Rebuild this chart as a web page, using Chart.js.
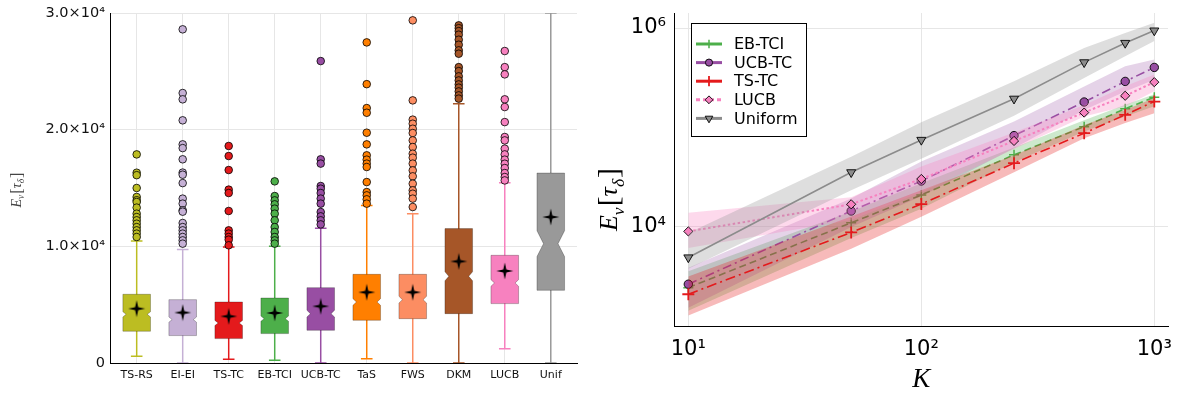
<!DOCTYPE html>
<html>
<head>
<meta charset="utf-8">
<script src="https://cdn.jsdelivr.net/npm/chart.js@4.4.1/dist/chart.umd.min.js"></script>
<style>
  body { margin: 0; background: #fff; }
  #wrap { position: relative; width: 1183px; height: 396px; }
  .pane { position: absolute; top: 0; height: 396px; }
</style>
</head>
<body>
<div id="wrap">
  <div class="pane" style="left:0;width:590px"><canvas id="boxChart" width="590" height="396"></canvas></div>
  <div class="pane" style="left:590px;width:593px"><canvas id="scaleChart" width="593" height="396"></canvas></div>
</div>
<script>
// ---- left panel: stopping time per algorithm ----
const methods = ["TS-RS", "EI-EI", "TS-TC", "EB-TCI", "UCB-TC", "TaS", "FWS", "DKM", "LUCB", "Unif"];
const q1 = [2720, 2350, 2090, 2520, 2800, 3660, 3800, 4230, 5090, 6230];
const medians = [4170, 3720, 3430, 3800, 4230, 5230, 5430, 7430, 6860, 10230];
const q3 = [5890, 5430, 5230, 5570, 6460, 7600, 7600, 11520, 9230, 16280];
const whiskerLow = [575, 0, 320, 230, 0, 370, 0, 0, 1230, 0];
const whiskerHigh = [10450, 9720, 9940, 10000, 11540, 13510, 12800, 22230, 15460, 30000];
const means = [4660, 4320, 4000, 4290, 4860, 6060, 6060, 8710, 7890, 12510];
const notchHalf = [220, 220, 220, 220, 285, 285, 285, 385, 285, 1110];
const outliers = [
  [17880, 16310, 16100, 15000, 14230, 13950, 13800, 13320, 12800, 12510, 12230, 11940, 11650, 11370, 11090, 10800],
  [28600, 23140, 22600, 20800, 18740, 18420, 17460, 16320, 16140, 15420, 14090, 13660, 13090, 12970, 12000, 11650, 11370, 11090, 10800, 10510, 10230],
  [18600, 17740, 16540, 14860, 14570, 13030, 11370, 11090, 10800, 10570, 10090],
  [15570, 14310, 13940, 13600, 13230, 12800, 12230, 11650, 11230, 10800, 10510, 10230],
  [25880, 17460, 17090, 15170, 14940, 14570, 14090, 13660, 12940, 12570, 12230, 11880],
  [27480, 23900, 21850, 21450, 19740, 18740, 17800, 17430, 17090, 16800, 15510, 14650, 14370, 14030, 13660],
  [29370, 22510, 20860, 20510, 20080, 19710, 19080, 18510, 17940, 17600, 17090, 16510, 16000, 15370, 14800, 14510, 14090, 13370],
  [28940, 28700, 28450, 28140, 27710, 27280, 26800, 26510, 25360, 25020, 24570, 24220, 23880, 23600, 23280, 22940, 22660],
  [26740, 25360, 24740, 22600, 21940, 20650, 19370, 19080, 18370, 17880, 17430, 17080, 16710, 16280, 15940, 15650],
  []
];
const boxColors = ["#bcbd22", "#c5b0d5", "#e41a1c", "#4daf4a", "#984ea3", "#ff7f00", "#fc8d62", "#a65628", "#f781bf", "#999999"];

// ---- right panel: scaling with K ----
const K = [10, 50, 100, 250, 500, 750, 1000];
const ebtciMean = [2390, 10800, 20600, 52400, 101000, 153000, 200000];
const ebtciLow = [1400, 7600, 15000, 44000, 90000, 128000, 162000];
const ebtciHigh = [3500, 14000, 27000, 62000, 117000, 168000, 215000];
const ucbMean = [2590, 14200, 28500, 82000, 179000, 289000, 400000];
const ucbLow = [1500, 9800, 20000, 61000, 149000, 229000, 300000];
const ucbHigh = [3800, 19000, 45000, 114000, 257000, 410000, 480000];
const tstcMean = [2050, 8630, 16700, 43200, 86700, 133000, 181000];
const tstcLow = [1250, 5900, 12400, 35000, 77000, 110000, 138000];
const tstcHigh = [3100, 12500, 23000, 52000, 105000, 149000, 196000];
const lucbMean = [8840, 16600, 29900, 72400, 140000, 207000, 284000];
const lucbLow = [6000, 11500, 22000, 60000, 128000, 162000, 230000];
const lucbHigh = [13600, 19500, 40000, 88000, 167000, 258000, 340000];
const unifMean = [4820, 34900, 74100, 193000, 450000, 706000, 942000];
const unifLow = [3700, 23000, 48000, 130000, 312000, 520000, 740000];
const unifHigh = [8500, 50000, 112000, 290000, 630000, 890000, 1130000];

Chart.defaults.font.family = '"DejaVu Sans", sans-serif';
Chart.defaults.color = "#000";

const SUP = { "0": "\u2070", "1": "\u00b9", "2": "\u00b2", "3": "\u00b3", "4": "\u2074", "5": "\u2075", "6": "\u2076" };

// E_nu[tau_delta] drawn piece by piece so the subscripts sit lower
function mathLabel(ctx, x, y, size, color, rot) {
  const parts = [
    { t: "E", it: true, sub: false },
    { t: "\u03bd", it: true, sub: true },
    { t: "[", it: false, sub: false, big: true },
    { t: "\u03c4", it: true, sub: false },
    { t: "\u03b4", it: true, sub: true },
    { t: "]", it: false, sub: false, big: true }
  ];
  const fontOf = (p) => {
    const s = p.sub ? size * 0.68 : p.big ? size * 1.15 : size;
    return (p.it ? "italic " : "") + s + 'px "Liberation Serif", serif';
  };
  ctx.save();
  ctx.translate(x, y);
  ctx.rotate(rot);
  ctx.fillStyle = color;
  ctx.textBaseline = "alphabetic";
  let total = 0;
  parts.forEach((p) => { ctx.font = fontOf(p); p.w = ctx.measureText(p.t).width + (p.sub ? 1 : 0); total += p.w; });
  let cx = -total / 2;
  parts.forEach((p) => {
    ctx.font = fontOf(p);
    ctx.fillText(p.t, cx, size * 0.35 + (p.sub ? size * 0.25 : 0) + (p.big ? size * 0.05 : 0));
    cx += p.w;
  });
  ctx.restore();
}

// four point star used for the means
const starImg = document.createElement("canvas");
starImg.width = 18; starImg.height = 18;
(function () {
  const c = starImg.getContext("2d");
  const R = 8.5, r = 2.2;
  c.translate(9, 9);
  c.beginPath();
  for (let k = 0; k < 8; k++) {
    const a = -Math.PI / 2 + k * Math.PI / 4;
    const rr = k % 2 === 0 ? R : r;
    c.lineTo(Math.cos(a) * rr, Math.sin(a) * rr);
  }
  c.closePath();
  c.fillStyle = "#000";
  c.fill();
})();

const boxPlugin = {
  id: "boxes",
  beforeDatasetsDraw(chart) {
    const { ctx, chartArea, scales: { x, y } } = chart;
    ctx.save();
    ctx.beginPath();
    ctx.rect(chartArea.left, chartArea.top, chartArea.right - chartArea.left, chartArea.bottom - chartArea.top);
    ctx.clip();
    methods.forEach((m, i) => {
      const cx = x.getPixelForValue(i + 1);
      const hw = x.getPixelForValue(1.3) - x.getPixelForValue(1);
      const capw = hw * 0.42;
      const lo = y.getPixelForValue(whiskerLow[i]);
      const hi = y.getPixelForValue(whiskerHigh[i]);
      ctx.strokeStyle = boxColors[i];
      ctx.lineWidth = 1.5;
      ctx.beginPath();
      ctx.moveTo(cx, lo); ctx.lineTo(cx, hi);
      ctx.moveTo(cx - capw, lo); ctx.lineTo(cx + capw, lo);
      ctx.moveTo(cx - capw, hi); ctx.lineTo(cx + capw, hi);
      ctx.stroke();

      const top = y.getPixelForValue(q3[i]);
      const bot = y.getPixelForValue(q1[i]);
      const med = y.getPixelForValue(medians[i]);
      const nh = y.getPixelForValue(medians[i] - notchHalf[i]) - med;
      const d = Math.min(hw * 0.5, 2.4 + nh * 0.32);
      ctx.beginPath();
      ctx.moveTo(cx - hw, top);
      ctx.lineTo(cx + hw, top);
      ctx.lineTo(cx + hw, med - nh);
      ctx.lineTo(cx + hw - d, med);
      ctx.lineTo(cx + hw, med + nh);
      ctx.lineTo(cx + hw, bot);
      ctx.lineTo(cx - hw, bot);
      ctx.lineTo(cx - hw, med + nh);
      ctx.lineTo(cx - hw + d, med);
      ctx.lineTo(cx - hw, med - nh);
      ctx.closePath();
      ctx.fillStyle = boxColors[i];
      ctx.fill();
      ctx.strokeStyle = "rgba(0,0,0,0.25)";
      ctx.lineWidth = 1;
      ctx.stroke();
    });
    ctx.restore();
  },
  afterDraw(chart) {
    const { ctx, chartArea } = chart;
    mathLabel(ctx, 16, (chartArea.top + chartArea.bottom) / 2 + 2, 14, "#444", -Math.PI / 2);
  }
};

const boxDatasets = [];
methods.forEach((m, i) => {
  boxDatasets.push({
    data: outliers[i].map((v) => ({ x: i + 1, y: v })),
    pointRadius: 3.8,
    pointBackgroundColor: boxColors[i],
    pointBorderColor: "#000",
    pointBorderWidth: 0.8
  });
});
boxDatasets.push({
  data: means.map((v, i) => ({ x: i + 1, y: v })),
  pointStyle: starImg
});

const noPadY = (w) => (s) => { s.width = w; s.paddingTop = 0; s.paddingBottom = 0; };
const noPadX = (h) => (s) => { s.height = h; s.paddingLeft = 0; s.paddingRight = 0; };

new Chart(document.getElementById("boxChart"), {
  type: "scatter",
  data: { datasets: boxDatasets },
  plugins: [boxPlugin],
  options: {
    responsive: false,
    animation: false,
    events: [],
    layout: { padding: { top: 13, right: 13, left: 0, bottom: 0 } },
    plugins: { legend: { display: false }, tooltip: { enabled: false } },
    scales: {
      x: {
        type: "linear",
        min: 0.42,
        max: 10.57,
        afterBuildTicks: (s) => { s.ticks = methods.map((m, i) => ({ value: i + 1 })); },
        afterFit: noPadX(33),
        ticks: {
          autoSkip: false, maxRotation: 0, padding: 6,
          font: { size: 11 }, color: "#111",
          callback: (v) => methods[v - 1]
        },
        grid: { color: "#e6e6e6", drawTicks: false },
        border: { color: "#000", width: 1 }
      },
      y: {
        min: 0,
        max: 30000,
        afterBuildTicks: (s) => { s.ticks = [0, 10000, 20000, 30000].map((v) => ({ value: v })); },
        afterFit: noPadY(110),
        ticks: {
          padding: 5,
          font: { size: 14.5 }, color: "#111",
          callback: (v) => (v === 0 ? "0" : (v / 10000).toFixed(1) + "\u00d710\u2074")
        },
        grid: { color: "#e6e6e6", drawTicks: false },
        border: { color: "#000", width: 1 }
      }
    }
  }
});

// ---- right panel ----
const seriesNames = ["EB-TCI", "UCB-TC", "TS-TC", "LUCB", "Uniform"];
const seriesMeans = [ebtciMean, ucbMean, tstcMean, lucbMean, unifMean];
const seriesLow = [ebtciLow, ucbLow, tstcLow, lucbLow, unifLow];
const seriesHigh = [ebtciHigh, ucbHigh, tstcHigh, lucbHigh, unifHigh];
const lineColors = ["#4daf4a", "#984ea3", "#e41a1c", "#f781bf", "#8c8c8c"];
const bandColors = ["rgba(77,175,74,0.28)", "rgba(152,78,163,0.25)", "rgba(228,26,28,0.3)", "rgba(247,129,191,0.3)", "rgba(153,153,153,0.32)"];
const dashes = [[7, 4], [9, 4, 2, 4], [10, 4, 2, 4], [2.5, 2.5], []];
const markers = [
  { style: "cross", radius: 5, fill: "#4daf4a", border: "#4daf4a", bw: 1.5, rot: 0 },
  { style: "circle", radius: 4.2, fill: "#984ea3", border: "#000", bw: 0.9, rot: 0 },
  { style: "cross", radius: 6, fill: "#e41a1c", border: "#e41a1c", bw: 1.8, rot: 0 },
  { style: "rectRot", radius: 4.6, fill: "#f781bf", border: "#000", bw: 0.9, rot: 0 },
  { style: "triangle", radius: 5.2, fill: "#8c8c8c", border: "#000", bw: 0.9, rot: 180 }
];

const lineDatasets = [];
seriesNames.forEach((name, s) => {
  const base = 15 - s * 3;
  const pts = (arr) => K.map((k, i) => ({ x: k, y: arr[i] }));
  lineDatasets.push({
    label: name + " low", data: pts(seriesLow[s]), order: base,
    borderWidth: 0, pointRadius: 0, fill: false, borderColor: "transparent"
  });
  lineDatasets.push({
    label: name + " high", data: pts(seriesHigh[s]), order: base - 1,
    borderWidth: 0, pointRadius: 0, fill: "-1", borderColor: "transparent",
    backgroundColor: bandColors[s]
  });
  lineDatasets.push({
    label: name, data: pts(seriesMeans[s]), order: base - 2,
    borderColor: lineColors[s], borderWidth: s === 3 ? 2 : 1.6, borderDash: dashes[s],
    fill: false, tension: 0,
    pointStyle: markers[s].style, pointRadius: markers[s].radius,
    pointBackgroundColor: markers[s].fill, pointBorderColor: markers[s].border,
    pointBorderWidth: markers[s].bw, pointRotation: markers[s].rot
  });
});

const legendPlugin = {
  id: "sideLegend",
  afterDraw(chart) {
    const { ctx, chartArea } = chart;
    const bx = chartArea.left + 17, by = chartArea.top + 10, bw = 115, bh = 113;
    ctx.save();
    ctx.fillStyle = "#fff";
    ctx.fillRect(bx, by, bw, bh);
    ctx.strokeStyle = "#000";
    ctx.lineWidth = 1;
    ctx.strokeRect(bx + 0.5, by + 0.5, bw, bh);
    seriesNames.forEach((name, s) => {
      const yy = by + 21 + s * 18.6;
      ctx.strokeStyle = lineColors[s];
      ctx.lineWidth = 3;
      ctx.setLineDash(s === 3 ? [4, 3] : []);
      ctx.beginPath();
      ctx.moveTo(bx + 5, yy); ctx.lineTo(bx + 31, yy);
      ctx.stroke();
      ctx.setLineDash([]);
      const mk = markers[s];
      ctx.fillStyle = mk.fill;
      ctx.strokeStyle = mk.border;
      ctx.lineWidth = mk.bw;
      Chart.helpers.drawPoint(ctx, { pointStyle: mk.style, radius: mk.radius * 0.85, rotation: mk.rot, borderWidth: mk.bw }, bx + 18, yy);
      ctx.fillStyle = "#000";
      ctx.font = '16px "DejaVu Sans", sans-serif';
      ctx.textBaseline = "middle";
      ctx.fillText(name, bx + 43, yy + 1);
    });
    ctx.restore();
    // axis titles
    mathLabel(ctx, 18, (chartArea.top + chartArea.bottom) / 2 + 30, 26, "#000", -Math.PI / 2);
    ctx.save();
    ctx.font = 'italic 27px "Liberation Serif", serif';
    ctx.textAlign = "center";
    ctx.textBaseline = "middle";
    ctx.fillStyle = "#000";
    ctx.fillText("K", chart.scales.x.getPixelForValue(100), 380);
    ctx.restore();
  }
};

const powLabel = (v) => "10" + SUP[String(Math.round(Math.log10(v)))];

new Chart(document.getElementById("scaleChart"), {
  type: "line",
  data: { datasets: lineDatasets },
  plugins: [legendPlugin],
  options: {
    responsive: false,
    animation: false,
    events: [],
    layout: { padding: { top: 13, right: 15, left: 0, bottom: 0 } },
    plugins: {
      legend: { display: false },
      tooltip: { enabled: false },
      filler: { drawTime: "beforeDatasetDraw", propagate: false }
    },
    scales: {
      x: {
        type: "logarithmic",
        min: 8.68,
        max: 1145,
        afterBuildTicks: (s) => { s.ticks = [10, 100, 1000].map((v) => ({ value: v })); },
        afterFit: noPadX(70),
        ticks: { padding: 11, font: { size: 21 }, callback: (v) => powLabel(v), maxRotation: 0 },
        grid: { color: "#e6e6e6", drawTicks: false },
        border: { color: "#000", width: 1 }
      },
      y: {
        type: "logarithmic",
        min: 980,
        max: 1418000,
        afterBuildTicks: (s) => { s.ticks = [10000, 1000000].map((v) => ({ value: v })); },
        afterFit: noPadY(84),
        ticks: { padding: 8, font: { size: 21 }, callback: (v) => powLabel(v) },
        grid: { color: "#e6e6e6", drawTicks: false },
        border: { color: "#000", width: 1 }
      }
    }
  }
});
</script>
</body>
</html>
